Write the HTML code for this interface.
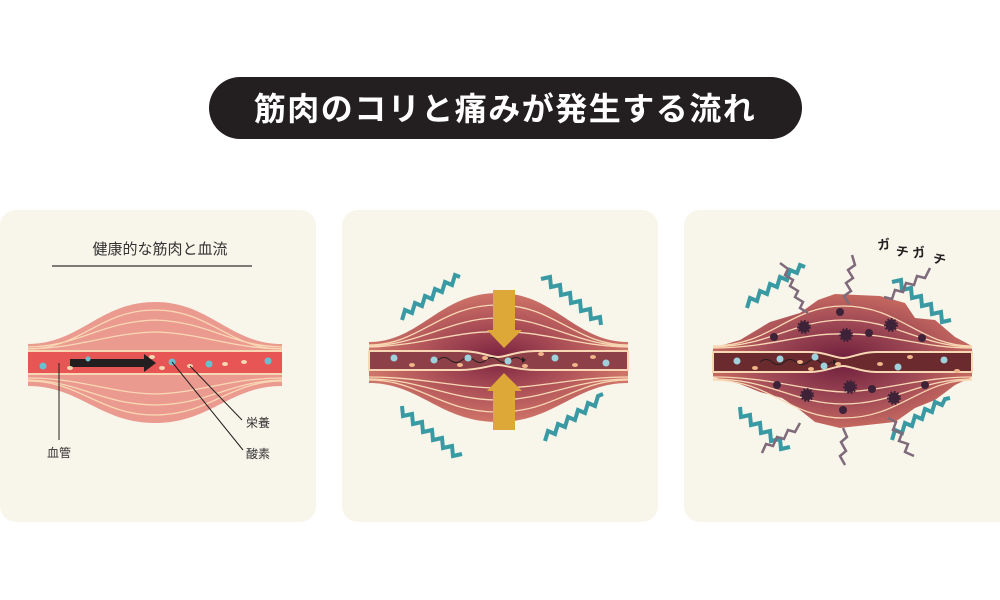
<!DOCTYPE html>
<html><head><meta charset="utf-8"><style>
body{margin:0;background:#fff;}
svg{display:block}
text{font-family:"Liberation Sans","Noto Sans CJK JP",sans-serif}
</style></head><body>
<svg width="1000" height="600" viewBox="0 0 1000 600" xmlns="http://www.w3.org/2000/svg">
<defs>
<radialGradient id="g2" cx="0.5" cy="0.5" r="0.5">
<stop offset="0" stop-color="#7a2340"/><stop offset="0.6" stop-color="#b2555a"/><stop offset="1" stop-color="#cf7468"/></radialGradient>
<radialGradient id="g3" cx="0.5" cy="0.5" r="0.5">
<stop offset="0" stop-color="#6e1e3c"/><stop offset="0.6" stop-color="#a04a56"/><stop offset="1" stop-color="#c5685f"/></radialGradient>
</defs>
<rect x="209" y="77" width="593" height="62" rx="31" fill="#231f20"/>
<text x="505" y="120" font-size="32" font-weight="bold" fill="#fff" text-anchor="middle" letter-spacing="1.5">筋肉のコリと痛みが発生する流れ</text>

<rect x="0" y="210" width="316" height="312" rx="16" fill="#f8f5ea"/>
<rect x="342" y="210" width="316" height="312" rx="16" fill="#f8f5ea"/>
<rect x="684" y="210" width="330" height="312" rx="16" fill="#f8f5ea"/>

<!-- panel 1 -->
<text x="160" y="254" font-size="15" fill="#333" text-anchor="middle">健康的な筋肉と血流</text>
<line x1="52" y1="266" x2="252" y2="266" stroke="#333" stroke-width="1.2"/>
<path d="M28,344 C80,344 100,302 155,302 C210,302 230,344 282,344 L282,386 C230,386 210,423 155,423 C100,423 80,386 28,386 Z" fill="#eb9a8f"/>
<g fill="none" stroke="#f8d8b4" stroke-width="1.3">
<path d="M28,349 C80,349 100,310 155,310 C210,310 230,349 282,349"/>
<path d="M28,347 C80,346 100,322 155,320 C210,322 230,346 282,347"/>
<path d="M28,349 C80,348 110,333 155,332 C200,333 230,348 282,349"/>
<path d="M28,381 C80,381 100,415 155,415 C210,415 230,381 282,381"/>
<path d="M28,380 C80,381 100,404 155,405 C210,404 230,381 282,380"/>
<path d="M28,378 C80,378 110,393 155,394 C200,393 230,378 282,378"/>
</g>
<rect x="28" y="352" width="254" height="21" fill="#e85555"/>
<line x1="28" y1="351" x2="282" y2="351" stroke="#f8d8b4" stroke-width="2"/>
<line x1="28" y1="374" x2="282" y2="374" stroke="#f8d8b4" stroke-width="2"/>
<rect x="70" y="359" width="76" height="8" fill="#231f20"/>
<polygon points="144,354 156,363 144,372" fill="#231f20"/>
<g fill="#6bbfcf"><circle cx="43" cy="366" r="3.5"/><circle cx="172" cy="362" r="3.5"/><circle cx="209" cy="364" r="3.5"/><circle cx="268" cy="361" r="3.5"/><circle cx="88" cy="359" r="2.5"/></g>
<g fill="#f8d8b4"><ellipse cx="70" cy="368" rx="3" ry="2"/><ellipse cx="152" cy="357" rx="3" ry="2"/><ellipse cx="162" cy="368" rx="3" ry="2"/><ellipse cx="190" cy="366" rx="3" ry="2"/><ellipse cx="225" cy="364" rx="3" ry="2"/><ellipse cx="244" cy="362" rx="3" ry="2"/></g>
<g stroke="#231f20" stroke-width="1"><line x1="59" y1="363" x2="59" y2="440"/><line x1="172" y1="362" x2="243" y2="450"/><line x1="190" y1="366" x2="242" y2="420"/></g>
<text x="59" y="457" font-size="12" fill="#333" text-anchor="middle">血管</text>
<text x="258" y="427" font-size="12" fill="#333" text-anchor="middle">栄養</text>
<text x="258" y="458" font-size="12" fill="#333" text-anchor="middle">酸素</text>

<!-- panel 2 -->
<path d="M369,342 C420,342 440,293 498,293 C555,293 575,342 628,342 L628,383 C575,383 555,422 498,422 C440,422 420,383 369,383 Z" fill="url(#g2)"/>
<g fill="none" stroke="#f8d8b4" stroke-width="1.3">
<path d="M369,345 C420,345 440,305 498,305 C555,305 575,345 628,345"/>
<path d="M369,346 C420,345 450,318 498,318 C545,318 575,345 628,346"/>
<path d="M369,347 C420,346 460,330 498,332 C540,330 575,346 628,347"/>
<path d="M369,380 C420,380 440,412 498,412 C555,412 575,380 628,380"/>
<path d="M369,379 C420,379 450,400 498,400 C545,400 575,379 628,379"/>
<path d="M369,377 C420,377 460,388 498,388 C540,388 575,377 628,377"/>
</g>
<path d="M369,351 L460,351 C480,351 490,357 498,357 C506,357 516,351 536,351 L628,351 L628,370 L536,370 C516,370 506,365 498,365 C490,365 480,370 460,370 L369,370 Z" fill="#8e4048" stroke="#f8d8b4" stroke-width="2"/>
<path d="M438,360 q6,-5 12,0 t12,0 t12,0 t12,0 t12,0 t12,0 t12,0" fill="none" stroke="#231f20" stroke-width="1"/>
<polygon points="522,357 526,360 522,363" fill="#231f20"/>
<g fill="#9fd1dc"><circle cx="394" cy="358" r="3.5"/><circle cx="434" cy="360" r="3.5"/><circle cx="468" cy="358" r="3.5"/><circle cx="508" cy="361" r="3.5"/><circle cx="555" cy="358" r="3.5"/><circle cx="606" cy="363" r="3.5"/></g>
<g fill="#f0b58a"><ellipse cx="412" cy="365" rx="3" ry="2"/><ellipse cx="460" cy="365" rx="3" ry="2"/><ellipse cx="485" cy="358" rx="3" ry="2"/><ellipse cx="525" cy="366" rx="3" ry="2"/><ellipse cx="541" cy="354" rx="3" ry="2"/><ellipse cx="575" cy="365" rx="3" ry="2"/><ellipse cx="593" cy="357" rx="3" ry="2"/></g>
<polygon points="493,290 515,290 515,330 522,330 504,348 487,330 493,330" fill="#dda838"/>
<polygon points="504,373 522,391 515,391 515,430 493,430 493,391 487,391" fill="#dda838"/>
<g fill="none" stroke="#3a9aa4" stroke-width="4" stroke-linejoin="miter">
<path d="M402,320 l3,-10 7,3 3,-10 7,3 3,-10 7,3 3,-10 7,3 3,-10 7,3 3,-10 5,2"/>
<path d="M541,279 l9,-2 1,10 9,-2 1,10 9,-2 1,10 9,-2 1,10 9,-2 1,10 9,-2 1,8"/>
<path d="M402,406 l1,10 9,-2 1,10 9,-2 1,10 9,-2 1,10 9,-2 1,10 9,-2 1,10 9,-2"/>
<path d="M545,441 l3,-10 7,3 3,-10 7,3 3,-10 7,3 3,-10 7,3 3,-10 7,3 3,-10 5,-2"/>
</g>

<!-- panel 3 -->
<path d="M713,348 L740,340 L770,322 L800,313 L818,300 L835,294 L880,296 L905,303 L915,318 L935,320 L955,337 L972,346 L972,377 L955,385 L935,400 L915,408 L895,422 L840,428 L815,422 L800,410 L782,398 L760,392 L740,384 L713,377 Z" fill="url(#g3)"/>
<g fill="none" stroke="#f8d8b4" stroke-width="1.3">
<path d="M713,346 C770,346 790,306 843,306 C900,306 920,346 972,346"/>
<path d="M713,347 C770,346 795,320 843,320 C895,320 920,346 972,347"/>
<path d="M713,348 C770,348 800,333 843,334 C890,333 920,348 972,348"/>
<path d="M713,380 C770,380 790,418 843,418 C900,418 920,380 972,380"/>
<path d="M713,379 C770,379 795,404 843,404 C895,404 920,379 972,379"/>
<path d="M713,377 C770,377 800,390 843,392 C890,390 920,377 972,377"/>
</g>
<path d="M713,352 L810,352 C825,352 835,358 843,358 C851,358 861,352 876,352 L972,352 L972,372 L876,372 C861,372 851,366 843,366 C835,366 825,372 810,372 L713,372 Z" fill="#6b2a2e" stroke="#f8d8b4" stroke-width="2"/>
<path d="M760,362 q6,-5 12,0 t12,0 t12,0 t12,0 t12,0 t12,0" fill="none" stroke="#231f20" stroke-width="1"/>
<polygon points="833,359 837,362 833,365" fill="#231f20"/>
<g fill="#9fd1dc"><circle cx="737" cy="361" r="3.5"/><circle cx="780" cy="359" r="3.5"/><circle cx="815" cy="357" r="3.5"/><circle cx="824" cy="366" r="3.5"/><circle cx="898" cy="367" r="3.5"/><circle cx="944" cy="360" r="3.5"/></g>
<g fill="#f0b58a"><ellipse cx="755" cy="368" rx="3" ry="2"/><ellipse cx="800" cy="362" rx="3" ry="2"/><ellipse cx="811" cy="369" rx="3" ry="2"/><ellipse cx="838" cy="364" rx="3" ry="2"/><ellipse cx="880" cy="364" rx="3" ry="2"/><ellipse cx="910" cy="357" rx="3" ry="2"/><ellipse cx="957" cy="371" rx="3" ry="2"/></g>
<g fill="#3e2238" stroke="#3e2238" stroke-width="3" stroke-dasharray="1.6 1.6">
<circle cx="804" cy="327" r="5.5"/><circle cx="846" cy="335" r="5.5"/><circle cx="891" cy="325" r="5.5"/><circle cx="807" cy="395" r="5.5"/><circle cx="850" cy="387" r="5.5"/><circle cx="894" cy="398" r="5.5"/>
</g>
<g fill="#3e2238">
<circle cx="774" cy="337" r="4"/><circle cx="840" cy="312" r="4"/><circle cx="869" cy="333" r="4"/><circle cx="922" cy="338" r="4"/><circle cx="777" cy="385" r="4"/><circle cx="872" cy="389" r="4"/><circle cx="843" cy="410" r="4"/><circle cx="925" cy="385" r="4"/>
</g>
<g fill="none" stroke="#3a9aa4" stroke-width="4">
<path d="M747,308 l3,-10 7,3 3,-10 7,3 3,-10 7,3 3,-10 7,3 3,-10 7,3 3,-8 5,2"/>
<path d="M892,282 l9,-2 1,10 9,-2 1,10 9,-2 1,10 9,-2 1,10 9,-2 1,10 9,-2"/>
<path d="M740,407 l1,10 9,-2 1,10 9,-2 1,10 9,-2 1,10 9,-2 1,10 9,-2"/>
<path d="M892,440 l3,-10 7,3 3,-10 7,3 3,-10 7,3 3,-10 7,3 3,-10 7,3 3,-6 5,-1"/>
</g>
<g fill="none" stroke="#7e6a7a" stroke-width="2.5">
<path d="M780,263 l8,6 -3,6 8,5 -3,6 8,5 -3,6 8,5 -3,6 8,5"/>
<path d="M852,255 l3,10 -7,5 5,8 -7,5 5,8 -7,5 5,8"/>
<path d="M930,268 l-5,10 -8,-2 -3,9 -8,-2 -3,9 -8,-2 -3,9 -8,-2"/>
<path d="M800,423 l-5,9 -7,-2 -4,9 -7,-2 -4,9 -7,-2 -4,9"/>
<path d="M843,428 l4,9 -6,5 5,9 -6,5 5,9"/>
<path d="M888,418 l8,4 -3,8 9,3 -3,8 9,3 -3,8 9,4"/>
</g>
<text x="878" y="250" font-size="13" font-weight="bold" fill="#231f20" transform="rotate(-8 878 250)">ガ</text>
<text x="895" y="255" font-size="13" font-weight="bold" fill="#231f20" transform="rotate(10 895 255)">チ</text>
<text x="913" y="258" font-size="13" font-weight="bold" fill="#231f20" transform="rotate(-8 913 258)">ガ</text>
<text x="932" y="262" font-size="13" font-weight="bold" fill="#231f20" transform="rotate(15 932 262)">チ</text>
</svg>
</body></html>
